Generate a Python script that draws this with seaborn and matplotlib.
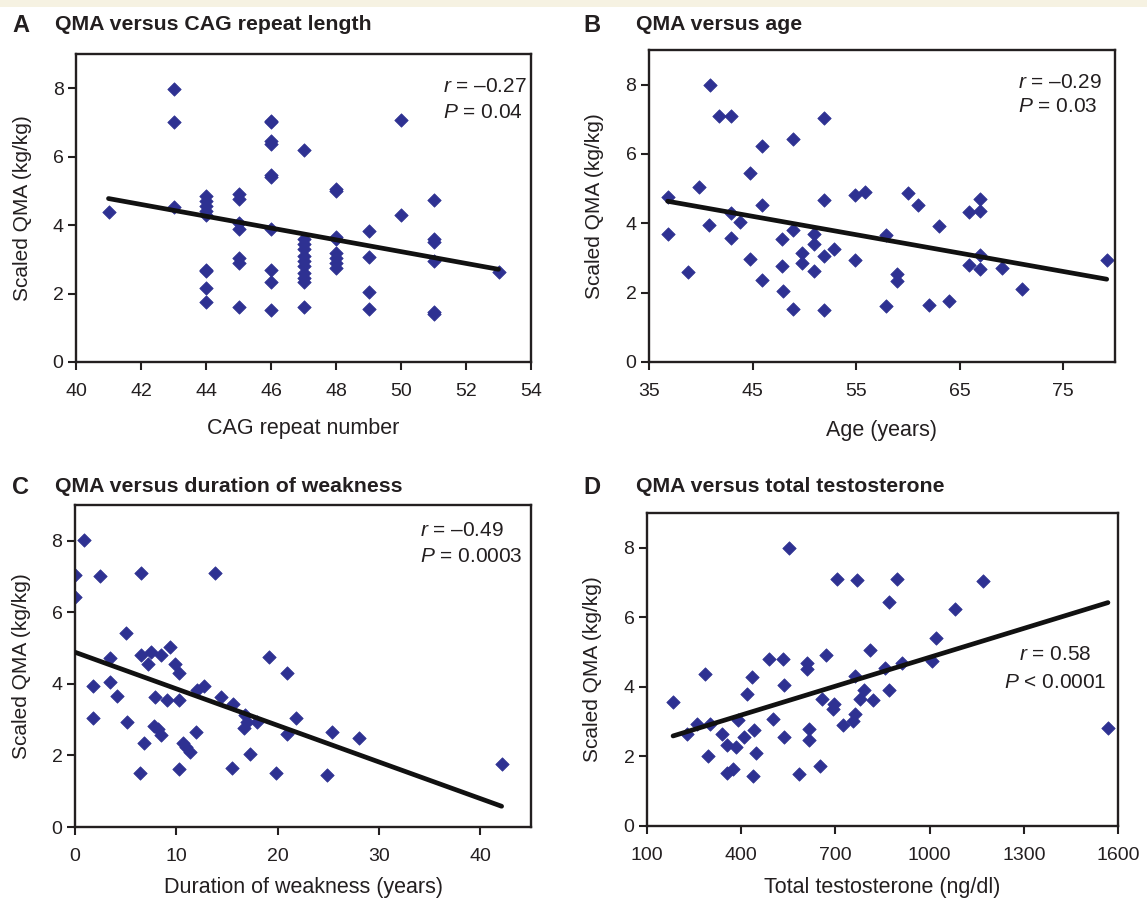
import numpy as np
import pandas as pd
import matplotlib
matplotlib.use("Agg")
import matplotlib.pyplot as plt
from matplotlib.patches import Rectangle
import seaborn as sns

# A: QMA vs CAG repeat number
cag = ([41] + [43] * 3 + [44] * 9 + [45] * 7 + [46] * 10 + [47] * 11 + [48] * 8
       + [49] * 4 + [50] * 2 + [51] * 6 + [53])
qma_cag = [4.37,
           7.97, 7.02, 4.54,
           4.85, 4.7, 4.55, 4.4, 4.3, 2.7, 2.65, 2.15, 1.75,
           4.9, 4.75, 4.05, 3.9, 3.05, 2.9, 1.62,
           7.05, 7.0, 6.45, 6.38, 5.45, 5.4, 3.9, 2.68, 2.35, 1.52,
           6.2, 3.6, 3.45, 3.3, 3.1, 2.95, 2.8, 2.6, 2.45, 2.35, 1.6,
           5.05, 5.0, 3.66, 3.6, 3.18, 3.05, 2.9, 2.75,
           3.82, 3.07, 2.04, 1.55,
           7.07, 4.3,
           4.73, 3.58, 3.5, 2.95, 1.45, 1.4,
           2.62]

# B: QMA vs age
age = [36.8, 36.8, 38.8, 39.8, 40.9, 40.8, 41.8, 42.9, 42.9, 42.9, 43.8, 44.8,
       44.8, 45.9, 45.9, 45.9, 47.8, 47.8, 47.9, 48.9, 48.9, 48.9, 49.8, 49.8,
       50.9, 50.9, 50.9, 51.9, 51.9, 51.9, 51.9, 52.9, 54.9, 54.9, 55.9, 57.9,
       57.9, 58.95, 58.95, 60.0, 61.0, 62.0, 63.0, 64.0, 65.9, 65.9, 67.0, 67.0,
       67.0, 67.0, 69.1, 71.0, 79.2]
qma_age = [4.75, 3.68, 2.60, 5.06, 8.0, 3.95, 7.10, 7.10, 4.29, 3.57, 4.05, 5.44,
           2.96, 6.24, 4.53, 2.36, 3.54, 2.78, 2.05, 6.44, 3.81, 1.54, 3.13, 2.86,
           3.68, 3.40, 2.62, 7.05, 4.67, 3.05, 1.49, 3.25, 2.94, 4.82, 4.91, 3.66,
           1.62, 2.53, 2.34, 4.87, 4.53, 1.64, 3.93, 1.76, 4.34, 2.81, 4.70, 4.36,
           3.10, 2.67, 2.72, 2.12, 2.94]

# C: QMA vs duration of weakness
duration = [0.0, 0.0, 0.9, 1.8, 1.8, 2.5, 3.5, 3.5, 4.1, 5.0, 5.1, 6.5, 6.5, 6.8,
            6.4, 7.2, 7.5, 7.9, 7.75, 8.2, 8.5, 8.5, 9.1, 9.4, 9.9, 10.3, 10.3,
            10.3, 10.7, 11.0, 11.3, 11.9, 12.0, 12.7, 13.8, 14.4, 15.6, 15.5,
            16.8, 16.7, 17.0, 17.3, 18.0, 19.1, 19.8, 20.9, 20.9, 21.8, 25.4,
            28.0, 24.9, 42.1]
qma_dur = [7.05, 6.43, 8.01, 3.95, 3.04, 7.02, 4.72, 4.06, 3.66, 5.42, 2.94, 7.10,
           4.81, 2.34, 1.51, 4.56, 4.90, 3.62, 2.83, 2.73, 4.81, 2.57, 3.55, 5.04,
           4.56, 4.30, 3.55, 1.61, 2.35, 2.24, 2.10, 2.66, 3.83, 3.94, 7.10, 3.64,
           3.43, 1.64, 3.13, 2.76, 2.94, 2.03, 2.94, 4.74, 1.51, 4.30, 2.59, 3.05,
           2.66, 2.48, 1.45, 1.76]

# D: QMA vs total testosterone
testo = [183, 226, 259, 300, 284, 294, 340, 355, 383, 355, 374, 390, 408, 420,
         433, 440, 438, 447, 489, 502, 532, 536, 536, 552, 584, 608, 608, 616,
         616, 651, 656, 669, 695, 693, 706, 725, 757, 762, 769, 762, 778, 792,
         810, 820, 858, 871, 871, 895, 911, 1009, 1019, 1081, 1169, 1568]
qma_testo = [3.56, 2.64, 2.93, 2.93, 4.36, 2.02, 2.64, 2.33, 2.28, 1.53, 1.63,
             3.06, 2.56, 3.80, 4.28, 2.77, 1.44, 2.11, 4.79, 3.09, 4.81, 4.04,
             2.57, 8.0, 1.49, 4.68, 4.52, 2.79, 2.46, 1.73, 3.64, 4.91, 3.52,
             3.37, 7.09, 2.91, 3.01, 3.22, 7.06, 4.31, 3.66, 3.92, 5.05, 3.61,
             4.55, 6.45, 3.90, 7.09, 4.68, 4.74, 5.42, 6.24, 7.04, 2.82]

letters = ["A", "B", "C", "D"]
titles = ["QMA versus CAG repeat length", "QMA versus age",
          "QMA versus duration of weakness", "QMA versus total testosterone"]
xlabels = ["CAG repeat number", "Age (years)", "Duration of weakness (years)",
           "Total testosterone (ng/dl)"]
stats = [("\u20130.27", "= 0.04"), ("\u20130.29", "= 0.03"),
         ("\u20130.49", "= 0.0003"), ("0.58", "< 0.0001")]

sns.set_theme(style="white")
plt.rcParams["font.family"] = ["Liberation Sans", "DejaVu Sans"]
plt.rcParams["mathtext.fontset"] = "custom"
plt.rcParams["mathtext.it"] = "Liberation Sans:italic"
plt.rcParams["mathtext.rm"] = "Liberation Sans"

W, H = 1147, 902
fig = plt.figure(figsize=(W / 100, H / 100), dpi=100)
fig.add_artist(Rectangle((0, 1 - 7 / H), 1, 7 / H, transform=fig.transFigure,
                         color="#f6f2e2", lw=0))

def px(l, t, r, b):
    return [l / W, 1 - b / H, (r - l) / W, (b - t) / H]

boxes = [px(76, 54, 531, 362), px(649, 50, 1115, 362),
         px(75, 505, 531, 827), px(647, 513, 1118, 826)]
xlims = [(40, 54), (35, 80), (0, 45), (100, 1600)]
xticks = [range(40, 55, 2), range(35, 80, 10), range(0, 41, 10),
          range(100, 1601, 300)]
datasets = [(cag, qma_cag), (age, qma_age), (duration, qma_dur),
            (testo, qma_testo)]
blue = "#2e3192"

for i in range(4):
    ax = fig.add_axes(boxes[i])
    x, y = datasets[i]
    df = pd.DataFrame({"x": x, "y": y})
    sns.scatterplot(data=df, x="x", y="y", marker="D", s=47, color=blue,
                    edgecolor=blue, linewidth=0.5, ax=ax, zorder=2)
    sns.regplot(data=df, x="x", y="y", scatter=False, ci=None, ax=ax,
                line_kws=dict(color="#111111", lw=3.4, zorder=3))
    ax.set_xlim(*xlims[i])
    ax.set_ylim(0, 9)
    ax.set_xticks(list(xticks[i]))
    ax.set_yticks([0, 2, 4, 6, 8])
    for s in ax.spines.values():
        s.set_color("#231f20")
        s.set_linewidth(1.7)
    ax.tick_params(axis="both", direction="out", length=6, width=1.5,
                   color="#231f20", labelsize=14, labelcolor="#231f20",
                   left=True, bottom=True)
    ax.tick_params(axis="x", pad=9)
    ax.tick_params(axis="y", pad=3)
    ax.set_xlabel(xlabels[i], fontsize=15.5, color="#231f20")
    ax.set_ylabel("Scaled QMA (kg/kg)", fontsize=15, color="#231f20")
    ax.yaxis.set_label_coords(-0.096, 0.5)
    ax.xaxis.set_label_coords(0.5, [-0.183, -0.185, -0.154, -0.162][i])

# panel letters and titles
for i, (lx, tx, ty) in enumerate([(12, 55, 25), (583, 636, 25),
                                   (12, 55, 487), (583, 636, 487)]):
    fig.text(lx / W, 1 - ty / H, letters[i], fontsize=17, fontweight="bold",
             va="center", ha="left", color="#231f20")
    fig.text(tx / W, 1 - ty / H, titles[i], fontsize=15.3, fontweight="bold",
             va="center", ha="left", color="#231f20")

# r and P annotations
pos = [(443, 87, 113, "left"), (1018, 82, 107, "left"),
       (420, 531, 556, "left"), (1055, 655, 682, "center")]
for (x0, yr, yp, ha), (rv, pv) in zip(pos, stats):
    fig.text(x0 / W, 1 - yr / H, r"$\mathit{r}$ = " + rv, fontsize=15,
             va="center", ha=ha, color="#231f20")
    fig.text(x0 / W, 1 - yp / H, r"$\mathit{P}$ " + pv, fontsize=15,
             va="center", ha=ha, color="#231f20")

fig.savefig("out.png", dpi=100)
